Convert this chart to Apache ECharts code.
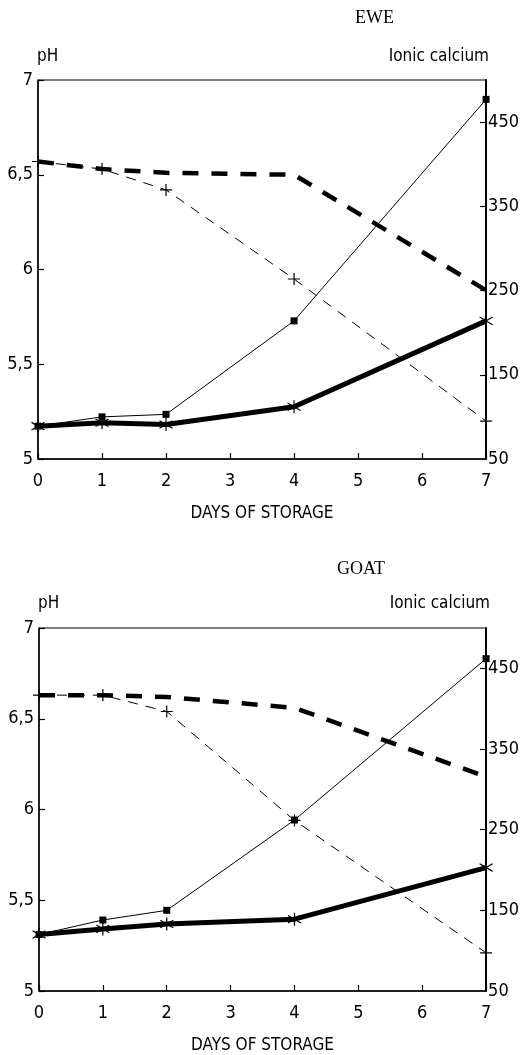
<!DOCTYPE html>
<html>
<head>
<meta charset="utf-8">
<script src="https://cdn.jsdelivr.net/npm/echarts@6/dist/echarts.min.js"></script>
<style>
html,body{margin:0;padding:0;background:#fff;}
#c{width:522px;height:1055px;}
</style>
</head>
<body>
<div id="c"></div>
<script>
// ---- data ----
const days = [0, 1, 2, 4, 7];
// EWE
const ewePhThick = [6.57, 6.53, 6.51, 6.50, 5.89];
const ewePhThin = [6.57, 6.53, 6.42, 5.95, 5.20];
const eweCaThin = [89, 100, 103, 214, 477];
const eweCaThick = [89, 93, 91, 112, 214];
// GOAT
const goatPhThick = [6.63, 6.63, 6.62, 6.56, 6.18];
const goatPhThin = [6.63, 6.63, 6.54, 5.94, 5.21];
const goatCaThin = [120, 138, 150, 262, 462];
const goatCaThick = [120, 127, 133, 139, 203];
// ticks / labels
const caLabelValues = [50, 150, 250, 350, 450];
const caTickValues = [150, 250, 350, 450];
const titles = ['EWE', 'GOAT'];
const xName = 'DAYS OF STORAGE';
const leftName = 'pH';
const rightName = 'Ionic calcium';

const FONT = '"Liberation Sans Narrow", "Arial Narrow", "DejaVu Sans Condensed", "Liberation Sans", sans-serif';
const SERIF = '"Liberation Serif", "Times New Roman", serif';

const pair = (ys) => days.map((d, i) => [d, ys[i]]);
const plusPath = 'path://M6,0L6,12M0,6L12,6';
const starPath = 'path://M6,0L6,12M0,2.5L12,9.5M0,9.5L12,2.5';

const grids = [
  {left: 38, top: 80, width: 455, height: 379},
  {left: 39, top: 628, width: 455, height: 364}
];

const chart = echarts.init(document.getElementById('c'), null, {renderer: 'canvas'});

const xAxes = [], yAxes = [], series = [];
grids.forEach((g, gi) => {
  xAxes.push({
    type: 'value', gridIndex: gi, min: 0, max: 7, interval: 1,
    name: xName, nameLocation: 'middle', nameGap: 46,
    nameTextStyle: {fontFamily: FONT, fontSize: 17, color: '#000'},
    axisLine: {show: true, lineStyle: {color: '#000', width: 1.5}},
    axisTick: {show: true, inside: true, length: 6, lineStyle: {color: '#000', width: 1.2}},
    axisLabel: {fontFamily: FONT, fontSize: 18, color: '#000', margin: 13},
    splitLine: {show: false}
  });
  yAxes.push({
    type: 'value', gridIndex: gi, min: 5, max: 7, interval: 0.5, position: 'left',
    axisLine: {show: true, lineStyle: {color: '#000', width: 1.5}},
    axisTick: {show: true, inside: true, length: 6, lineStyle: {color: '#000', width: 1.2}},
    axisLabel: {fontFamily: FONT, fontSize: 18, color: '#000', margin: 5,
      formatter: v => String(v).replace('.', ',')},
    splitLine: {show: false}
  });
  yAxes.push({
    type: 'value', gridIndex: gi, min: 50, max: 500, interval: 50, position: 'right',
    axisLine: {show: true, lineStyle: {color: '#000', width: 2}},
    axisTick: {show: true, inside: true, length: 6, lineStyle: {color: '#000', width: 1.2},
      customValues: caTickValues},
    axisLabel: {fontFamily: FONT, fontSize: 18, color: '#000', margin: 2,
      customValues: caLabelValues},
    splitLine: {show: false}
  });
});

const sets = [
  [ewePhThick, ewePhThin, eweCaThin, eweCaThick],
  [goatPhThick, goatPhThin, goatCaThin, goatCaThick]
];
sets.forEach((s, gi) => {
  series.push({
    type: 'line', xAxisIndex: gi, yAxisIndex: gi * 2, data: pair(s[0]),
    showSymbol: false, symbol: 'none', silent: true, animation: false,
    lineStyle: {color: '#000', width: 4.5, type: [16, 13]}
  });
  series.push({
    type: 'line', xAxisIndex: gi, yAxisIndex: gi * 2, data: pair(s[1]),
    symbol: plusPath, symbolSize: 12, animation: false,
    itemStyle: {color: '#000', borderColor: '#000', borderWidth: 1.2},
    lineStyle: {color: '#000', width: 1, type: [10, 8]}
  });
  series.push({
    type: 'line', xAxisIndex: gi, yAxisIndex: gi * 2 + 1, data: pair(s[2]),
    symbol: 'rect', symbolSize: 7, animation: false,
    itemStyle: {color: '#000'},
    lineStyle: {color: '#000', width: 1}
  });
  series.push({
    type: 'line', xAxisIndex: gi, yAxisIndex: gi * 2 + 1, data: pair(s[3]),
    symbol: starPath, symbolSize: 13, animation: false,
    itemStyle: {color: '#000', borderColor: '#000', borderWidth: 1.2},
    lineStyle: {color: '#000', width: 5}
  });
});

const graphic = [
  {type: 'text', left: 355, top: 9, style: {text: titles[0], font: '18px ' + SERIF, fill: '#000'}},
  {type: 'text', left: 337, top: 560, style: {text: titles[1], font: '18px ' + SERIF, fill: '#000'}},
  {type: 'text', left: 37, top: 48, style: {text: leftName, font: '17px ' + FONT, fill: '#000'}},
  {type: 'text', right: 33, top: 48, style: {text: rightName, font: '17px ' + FONT, fill: '#000'}},
  {type: 'text', left: 38, top: 595, style: {text: leftName, font: '17px ' + FONT, fill: '#000'}},
  {type: 'text', right: 32, top: 595, style: {text: rightName, font: '17px ' + FONT, fill: '#000'}}
];

chart.setOption({
  backgroundColor: '#fff',
  animation: false,
  grid: grids.map(g => Object.assign({show: true, borderColor: '#000', borderWidth: 1, containLabel: false}, g)),
  xAxis: xAxes,
  yAxis: yAxes,
  series: series,
  graphic: graphic
});
</script>
</body>
</html>
